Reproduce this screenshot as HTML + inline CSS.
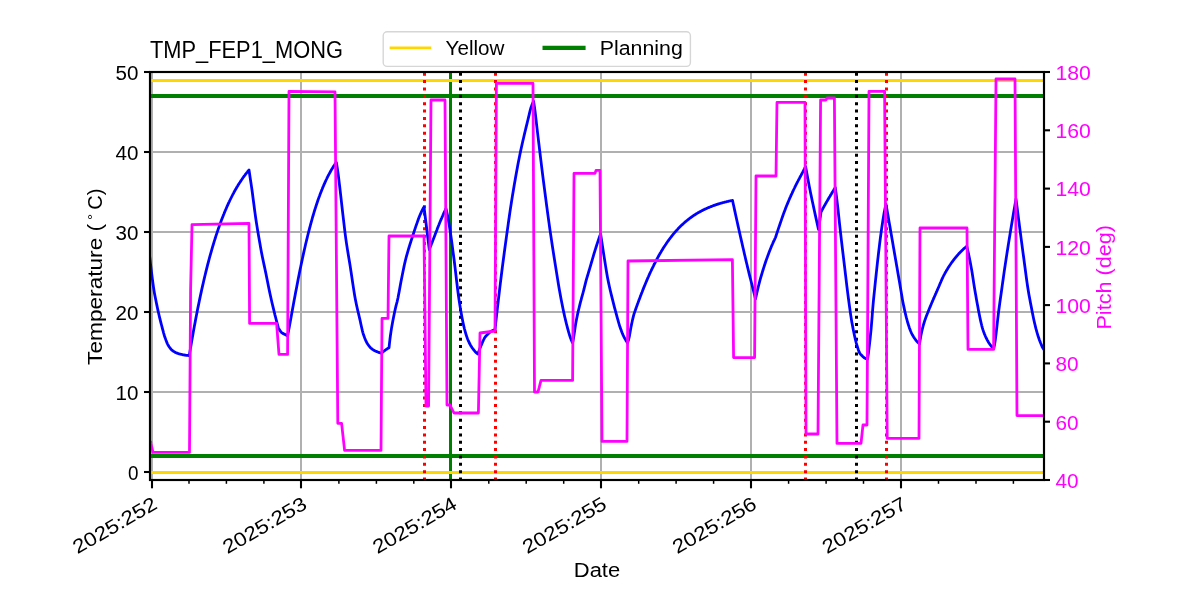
<!DOCTYPE html>
<html lang="en"><head><meta charset="utf-8"><title>TMP_FEP1_MONG</title>
<style>
html,body{margin:0;padding:0;background:#fff;}
body{width:1200px;height:600px;overflow:hidden;font-family:"Liberation Sans", sans-serif;}
svg{display:block;will-change:transform;}
text{font-family:"Liberation Sans", sans-serif;}
.tk{font-size:19.6px;fill:#000;}
.tm{font-size:19.6px;fill:#ff00ff;}
</style></head><body>
<svg width="1200" height="600" viewBox="0 0 1200 600">
<rect x="0" y="0" width="1200" height="600" fill="#ffffff"/>
<defs><clipPath id="ax"><rect x="150" y="72" width="894" height="408"/></clipPath></defs>
<g stroke="#b0b0b0" stroke-width="2" fill="none">
<line x1="152.0" y1="72" x2="152.0" y2="480"/>
<line x1="301.0" y1="72" x2="301.0" y2="480"/>
<line x1="451.0" y1="72" x2="451.0" y2="480"/>
<line x1="601.0" y1="72" x2="601.0" y2="480"/>
<line x1="751.0" y1="72" x2="751.0" y2="480"/>
<line x1="901.0" y1="72" x2="901.0" y2="480"/>
<line x1="150" y1="472.0" x2="1044" y2="472.0"/>
<line x1="150" y1="392.0" x2="1044" y2="392.0"/>
<line x1="150" y1="312.0" x2="1044" y2="312.0"/>
<line x1="150" y1="232.0" x2="1044" y2="232.0"/>
<line x1="150" y1="152.0" x2="1044" y2="152.0"/>
<line x1="150" y1="72.0" x2="1044" y2="72.0"/>
</g>
<g clip-path="url(#ax)" fill="none">
<line x1="450.5" y1="480" x2="450.5" y2="72" stroke="#008000" stroke-width="3"/>
<line x1="150" y1="80.5" x2="1044" y2="80.5" stroke="#ffd700" stroke-width="3"/>
<line x1="150" y1="472.5" x2="1044" y2="472.5" stroke="#ffd700" stroke-width="3"/>
<line x1="150" y1="96.0" x2="1044" y2="96.0" stroke="#008000" stroke-width="4"/>
<line x1="150" y1="456.0" x2="1044" y2="456.0" stroke="#008000" stroke-width="4"/>
<line x1="424.5" y1="480" x2="424.5" y2="72" stroke="#ff0000" stroke-width="3" stroke-dasharray="3 4.36" stroke-dashoffset="0.55"/>
<line x1="495.5" y1="480" x2="495.5" y2="72" stroke="#ff0000" stroke-width="3" stroke-dasharray="3 4.36" stroke-dashoffset="0.55"/>
<line x1="805.5" y1="480" x2="805.5" y2="72" stroke="#ff0000" stroke-width="3" stroke-dasharray="3 4.36" stroke-dashoffset="0.55"/>
<line x1="886.5" y1="480" x2="886.5" y2="72" stroke="#ff0000" stroke-width="3" stroke-dasharray="3 4.36" stroke-dashoffset="0.55"/>
<line x1="460.5" y1="480" x2="460.5" y2="72" stroke="#000000" stroke-width="3" stroke-dasharray="3 4.36" stroke-dashoffset="0.55"/>
<line x1="856.5" y1="480" x2="856.5" y2="72" stroke="#000000" stroke-width="3" stroke-dasharray="3 4.36" stroke-dashoffset="0.55"/>
<path d="M148.0,242.0 L148.5,246.4 L149.0,250.8 L149.5,255.1 L150.0,259.5 L150.5,263.8 L151.0,268.0 L151.5,272.1 L152.0,276.1 L152.5,280.0 L153.0,283.7 L153.5,287.3 L154.0,290.5 L154.5,293.4 L155.0,296.0 L155.5,298.5 L156.0,301.0 L156.5,303.5 L157.0,305.9 L157.5,308.2 L158.0,310.6 L158.5,312.8 L159.0,315.0 L159.5,317.1 L160.0,319.2 L160.5,321.1 L161.0,323.1 L161.5,325.0 L162.0,326.9 L162.5,328.8 L163.0,330.7 L163.5,332.6 L164.0,334.3 L164.5,336.0 L165.0,337.5 L165.5,338.9 L166.0,340.3 L166.5,341.6 L167.0,342.9 L167.5,344.0 L168.0,345.0 L168.5,345.8 L169.0,346.6 L169.5,347.3 L170.0,348.0 L170.5,348.6 L171.0,349.2 L171.5,349.7 L172.0,350.2 L172.5,350.6 L173.0,351.0 L173.5,351.3 L174.0,351.6 L174.5,351.9 L175.0,352.2 L175.5,352.5 L176.0,352.7 L176.5,352.9 L177.0,353.1 L177.5,353.3 L178.0,353.5 L178.5,353.7 L179.0,353.8 L179.5,354.0 L180.0,354.1 L180.5,354.2 L181.0,354.3 L181.5,354.4 L182.0,354.5 L182.5,354.7 L183.0,354.8 L183.5,354.9 L184.0,355.0 L184.5,355.0 L185.0,355.1 L185.5,355.2 L186.0,355.3 L186.5,355.3 L187.0,355.4 L187.5,355.4 L188.0,355.5 L188.5,355.5 L189.0,355.5 L189.3,355.5 L189.8,352.5 L190.3,349.4 L190.8,346.5 L191.3,343.5 L191.8,340.6 L192.3,337.8 L192.8,334.9 L193.3,332.1 L193.8,329.3 L194.3,326.6 L194.8,323.9 L195.3,321.2 L195.8,318.6 L196.3,316.0 L196.8,313.4 L197.3,310.8 L197.8,308.3 L198.3,305.9 L198.8,303.4 L199.3,301.0 L199.8,298.6 L200.3,296.2 L200.8,293.9 L201.3,291.6 L201.8,289.3 L202.3,287.1 L202.8,284.9 L203.3,282.7 L203.8,280.5 L204.3,278.4 L204.8,276.3 L205.3,274.2 L205.8,272.1 L206.3,270.1 L206.8,268.1 L207.3,266.2 L207.8,264.2 L208.3,262.3 L208.8,260.4 L209.3,258.5 L209.8,256.7 L210.3,254.9 L210.8,253.1 L211.3,251.3 L211.8,249.6 L212.3,247.8 L212.8,246.1 L213.3,244.5 L213.8,242.8 L214.3,241.2 L214.8,239.6 L215.3,238.0 L215.8,236.4 L216.3,234.9 L216.8,233.4 L217.3,231.9 L217.8,230.4 L218.3,228.9 L218.8,227.5 L219.3,226.1 L219.8,224.7 L220.3,223.3 L220.8,221.9 L221.3,220.6 L221.8,219.3 L222.3,218.0 L222.8,216.7 L223.3,215.4 L223.8,214.2 L224.3,212.9 L224.8,211.7 L225.3,210.5 L225.8,209.4 L226.3,208.2 L226.8,207.0 L227.3,205.9 L227.8,204.8 L228.3,203.7 L228.8,202.6 L229.3,201.6 L229.8,200.5 L230.3,199.5 L230.8,198.5 L231.3,197.5 L231.8,196.5 L232.3,195.5 L232.8,194.5 L233.3,193.6 L233.8,192.7 L234.3,191.7 L234.8,190.8 L235.3,189.9 L235.8,189.1 L236.3,188.2 L236.8,187.3 L237.3,186.5 L237.8,185.7 L238.3,184.8 L238.8,184.0 L239.3,183.2 L239.8,182.5 L240.3,181.7 L240.8,180.9 L241.3,180.2 L241.8,179.5 L242.3,178.7 L242.8,178.0 L243.3,177.3 L243.8,176.6 L244.3,175.9 L244.8,175.3 L245.3,174.6 L245.8,173.9 L246.3,173.3 L246.8,172.7 L247.3,172.1 L247.8,171.4 L248.3,170.8 L248.8,170.2 L249.0,170.0 L249.5,173.3 L250.0,176.7 L250.5,180.0 L251.0,183.3 L251.5,186.6 L252.0,190.0 L252.5,193.8 L253.0,197.7 L253.5,201.5 L254.0,205.3 L254.5,209.2 L255.0,212.9 L255.5,216.5 L256.0,220.0 L256.5,223.3 L257.0,226.4 L257.5,229.5 L258.0,232.4 L258.5,235.4 L259.0,238.3 L259.5,241.2 L260.0,244.0 L260.5,246.9 L261.0,249.7 L261.5,252.4 L262.0,255.0 L262.5,257.5 L263.0,259.9 L263.5,262.3 L264.0,264.6 L264.5,266.9 L265.0,269.3 L265.5,271.6 L266.0,274.0 L266.5,276.5 L267.0,279.0 L267.5,281.5 L268.0,284.1 L268.5,286.6 L269.0,289.0 L269.5,291.4 L270.0,293.7 L270.5,296.0 L271.0,298.3 L271.5,300.5 L272.0,302.7 L272.5,304.8 L273.0,306.9 L273.5,308.9 L274.0,311.0 L274.5,313.0 L275.0,315.1 L275.5,317.0 L276.0,319.0 L276.5,320.9 L277.0,322.8 L277.5,324.7 L278.0,326.6 L278.3,327.7 L278.8,328.6 L279.3,329.5 L279.8,330.4 L280.3,331.1 L280.8,331.8 L281.3,332.3 L281.8,332.7 L282.3,333.0 L282.8,333.4 L283.3,333.6 L283.8,333.9 L284.3,334.1 L284.8,334.4 L285.3,334.6 L285.8,334.9 L286.3,335.2 L286.8,335.5 L287.3,335.8 L287.6,336.0 L288.1,333.3 L288.6,330.6 L289.1,327.9 L289.6,325.2 L290.1,322.4 L290.6,319.7 L291.1,316.9 L291.6,314.2 L292.1,311.5 L292.6,308.7 L293.1,306.0 L293.6,303.3 L294.1,300.6 L294.6,297.9 L295.1,295.3 L295.6,292.6 L296.1,290.0 L296.6,287.4 L297.1,284.8 L297.6,282.2 L298.1,279.6 L298.6,277.1 L299.1,274.6 L299.6,272.1 L300.1,269.6 L300.6,267.2 L301.1,264.8 L301.6,262.4 L302.1,260.1 L302.6,257.7 L303.1,255.4 L303.6,253.1 L304.1,250.9 L304.6,248.7 L305.1,246.5 L305.6,244.3 L306.1,242.2 L306.6,240.1 L307.1,238.1 L307.6,236.0 L308.1,234.0 L308.6,232.0 L309.1,230.1 L309.6,228.2 L310.1,226.3 L310.6,224.4 L311.1,222.6 L311.6,220.8 L312.1,219.0 L312.6,217.2 L313.1,215.5 L313.6,213.8 L314.1,212.2 L314.6,210.5 L315.1,208.9 L315.6,207.3 L316.1,205.8 L316.6,204.3 L317.1,202.8 L317.6,201.3 L318.1,199.8 L318.6,198.4 L319.1,197.0 L319.6,195.7 L320.1,194.3 L320.6,193.0 L321.1,191.7 L321.6,190.4 L322.1,189.2 L322.6,187.9 L323.1,186.7 L323.6,185.6 L324.1,184.4 L324.6,183.3 L325.1,182.2 L325.6,181.1 L326.1,180.0 L326.6,179.0 L327.1,177.9 L327.6,176.9 L328.1,175.9 L328.6,175.0 L329.1,174.0 L329.6,173.1 L330.1,172.2 L330.6,171.3 L331.1,170.4 L331.6,169.5 L332.1,168.7 L332.6,167.9 L333.1,167.1 L333.6,166.3 L334.1,165.5 L334.6,164.8 L335.1,164.0 L335.6,163.3 L336.1,162.6 L336.3,162.3 L336.8,165.1 L337.3,168.3 L337.8,171.6 L338.3,175.2 L338.8,179.2 L339.3,183.3 L339.8,187.5 L340.3,191.9 L340.8,196.2 L341.3,200.6 L341.8,205.1 L342.3,209.5 L342.8,213.9 L343.3,218.1 L343.8,222.4 L344.3,226.7 L344.8,230.8 L345.3,234.8 L345.8,238.6 L346.3,242.1 L346.8,245.4 L347.3,248.6 L347.8,251.7 L348.3,254.7 L348.8,257.7 L349.3,260.7 L349.8,263.7 L350.3,266.9 L350.8,270.2 L351.3,273.5 L351.8,276.9 L352.3,280.2 L352.8,283.6 L353.3,286.9 L353.8,290.1 L354.3,293.2 L354.8,296.2 L355.3,298.9 L355.8,301.5 L356.3,304.0 L356.8,306.3 L357.3,308.5 L357.8,310.7 L358.3,312.8 L358.8,314.9 L359.3,317.0 L359.8,319.1 L360.3,321.3 L360.8,323.7 L361.3,326.0 L361.8,328.3 L362.3,330.4 L362.8,332.3 L363.3,334.0 L363.8,335.5 L364.3,336.9 L364.8,338.3 L365.3,339.5 L365.8,340.7 L366.3,341.7 L366.8,342.7 L367.3,343.5 L367.8,344.3 L368.3,345.0 L368.8,345.7 L369.3,346.3 L369.8,346.9 L370.3,347.5 L370.8,348.0 L371.3,348.4 L371.8,348.8 L372.3,349.2 L372.8,349.6 L373.3,349.9 L373.8,350.2 L374.3,350.5 L374.8,350.7 L375.3,351.0 L375.8,351.2 L376.3,351.4 L376.8,351.6 L377.3,351.8 L377.8,352.0 L378.3,352.2 L378.8,352.4 L379.3,352.6 L379.8,352.7 L380.3,352.9 L380.8,353.0 L381.3,353.2 L381.5,353.2 L382.0,352.7 L382.5,352.3 L383.0,351.9 L383.5,351.5 L384.0,351.1 L384.5,350.7 L385.0,350.3 L385.5,349.9 L386.0,349.6 L386.5,349.3 L387.0,349.0 L387.5,348.6 L388.0,348.3 L388.5,348.1 L389.0,347.8 L389.5,343.2 L390.0,338.9 L390.5,335.0 L391.0,331.6 L391.5,328.4 L392.0,325.5 L392.5,322.7 L393.0,320.0 L393.5,317.4 L394.0,314.9 L394.5,312.5 L395.0,310.2 L395.5,308.0 L396.0,305.9 L396.5,304.0 L397.0,302.1 L397.5,300.0 L398.0,297.7 L398.5,295.1 L399.0,292.5 L399.5,289.8 L400.0,287.0 L400.5,284.2 L401.0,281.6 L401.5,279.0 L402.0,276.5 L402.5,274.0 L403.0,271.5 L403.5,269.0 L404.0,266.6 L404.5,264.3 L405.0,262.1 L405.5,260.0 L406.0,258.0 L406.5,256.1 L407.0,254.3 L407.5,252.6 L408.0,250.9 L408.5,249.2 L409.0,247.5 L409.5,245.9 L410.0,244.2 L410.5,242.7 L411.0,241.1 L411.5,239.6 L412.0,238.0 L412.5,236.5 L413.0,235.0 L413.5,233.5 L414.0,231.9 L414.5,230.4 L415.0,228.9 L415.5,227.4 L416.0,225.9 L416.5,224.5 L417.0,223.1 L417.5,221.6 L418.0,220.2 L418.5,218.8 L419.0,217.5 L419.5,216.2 L420.0,215.0 L420.5,213.9 L421.0,212.8 L421.5,211.7 L422.0,210.7 L422.5,209.7 L423.0,208.7 L423.5,207.8 L424.0,207.0 L429.3,249.5 L429.8,248.2 L430.3,247.0 L430.8,245.7 L431.3,244.4 L431.8,243.1 L432.3,241.9 L432.8,240.6 L433.3,239.3 L433.8,238.0 L434.3,236.7 L434.8,235.4 L435.3,234.1 L435.8,232.8 L436.3,231.5 L436.8,230.2 L437.3,228.8 L437.8,227.5 L438.3,226.2 L438.8,225.0 L439.3,223.7 L439.8,222.5 L440.3,221.3 L440.8,220.1 L441.3,218.9 L441.8,217.8 L442.3,216.6 L442.8,215.5 L443.3,214.3 L443.8,213.2 L444.3,212.1 L444.8,211.0 L445.3,210.0 L445.8,208.9 L446.0,208.5 L446.5,210.6 L447.0,213.0 L447.5,215.4 L448.0,218.0 L448.5,220.8 L449.0,223.7 L449.5,226.8 L450.0,230.0 L450.5,233.3 L451.0,236.7 L451.5,240.3 L452.0,243.9 L452.5,247.6 L453.0,251.4 L453.5,255.2 L454.0,259.0 L454.5,263.0 L455.0,267.1 L455.5,271.4 L456.0,275.7 L456.5,280.0 L457.0,284.2 L457.5,288.4 L458.0,292.3 L458.5,296.0 L459.0,299.5 L459.5,302.8 L460.0,306.0 L460.5,309.1 L461.0,312.0 L461.5,314.8 L462.0,317.5 L462.5,320.1 L463.0,322.6 L463.5,324.9 L464.0,327.0 L464.5,329.0 L465.0,330.8 L465.5,332.6 L466.0,334.3 L466.5,335.9 L467.0,337.4 L467.5,338.8 L468.0,340.0 L468.5,341.1 L469.0,342.2 L469.5,343.3 L470.0,344.2 L470.5,345.2 L471.0,346.0 L471.5,346.8 L472.0,347.6 L472.5,348.3 L473.0,349.0 L473.5,349.6 L474.0,350.2 L474.5,350.8 L475.0,351.4 L475.5,351.9 L476.0,352.4 L476.5,352.9 L477.0,353.3 L477.5,353.7 L478.0,354.0 L478.5,352.5 L479.0,351.0 L479.5,349.6 L480.0,348.2 L480.5,347.0 L481.0,345.8 L481.5,344.6 L482.0,343.4 L482.5,342.2 L483.0,341.1 L483.5,340.0 L484.0,339.0 L484.5,338.1 L485.0,337.3 L485.5,336.6 L486.0,336.0 L486.5,335.5 L487.0,335.0 L487.5,334.5 L488.0,334.0 L488.5,333.5 L489.0,333.1 L489.5,332.6 L490.0,332.2 L490.5,331.8 L491.0,331.5 L491.5,331.1 L492.0,330.9 L492.5,330.6 L493.0,330.4 L493.5,330.2 L494.0,330.1 L494.5,330.0 L495.0,330.0 L495.5,325.2 L496.0,320.6 L496.5,316.0 L497.0,311.6 L497.5,307.3 L498.0,303.0 L498.5,298.8 L499.0,294.5 L499.5,290.3 L500.0,286.2 L500.5,282.1 L501.0,278.0 L501.5,274.0 L502.0,270.0 L502.5,266.1 L503.0,262.3 L503.5,258.5 L504.0,254.7 L504.5,251.0 L505.0,247.3 L505.5,243.6 L506.0,240.0 L506.5,236.4 L507.0,232.8 L507.5,229.1 L508.0,225.6 L508.5,222.0 L509.0,218.5 L509.5,215.0 L510.0,211.6 L510.5,208.3 L511.0,205.0 L511.5,201.8 L512.0,198.6 L512.5,195.5 L513.0,192.5 L513.5,189.5 L514.0,186.5 L514.5,183.6 L515.0,180.7 L515.5,177.8 L516.0,175.0 L516.5,172.2 L517.0,169.5 L517.5,166.8 L518.0,164.1 L518.5,161.5 L519.0,159.0 L519.5,156.5 L520.0,154.0 L520.5,151.6 L521.0,149.3 L521.5,147.0 L522.0,144.7 L522.5,142.5 L523.0,140.3 L523.5,138.2 L524.0,136.0 L524.5,133.9 L525.0,131.8 L525.5,129.7 L526.0,127.6 L526.5,125.6 L527.0,123.6 L527.5,121.5 L528.0,119.5 L528.5,117.4 L529.0,115.2 L529.5,113.1 L530.0,111.0 L530.5,109.1 L531.0,107.5 L531.5,106.1 L532.0,104.7 L532.5,103.5 L533.0,102.4 L533.5,101.5 L533.6,101.3 L534.1,104.6 L534.6,108.0 L535.1,111.8 L535.6,115.8 L536.1,120.2 L536.6,124.6 L537.1,128.8 L537.6,133.1 L538.1,137.3 L538.6,141.5 L539.1,145.7 L539.6,149.8 L540.1,154.0 L540.6,158.1 L541.1,162.2 L541.6,166.3 L542.1,170.3 L542.6,174.3 L543.1,178.3 L543.6,182.2 L544.1,186.1 L544.6,189.9 L545.1,193.8 L545.6,197.6 L546.1,201.4 L546.6,205.2 L547.1,208.9 L547.6,212.7 L548.1,216.4 L548.6,220.0 L549.1,223.6 L549.6,227.2 L550.1,230.7 L550.6,234.1 L551.1,237.5 L551.6,240.9 L552.1,244.2 L552.6,247.5 L553.1,250.8 L553.6,254.0 L554.1,257.2 L554.6,260.3 L555.1,263.5 L555.6,266.6 L556.1,269.8 L556.6,272.9 L557.1,276.0 L557.6,279.1 L558.1,282.2 L558.6,285.2 L559.1,288.2 L559.6,291.0 L560.1,293.8 L560.6,296.5 L561.1,299.2 L561.6,301.8 L562.1,304.3 L562.6,306.8 L563.1,309.2 L563.6,311.6 L564.1,313.9 L564.6,316.2 L565.1,318.3 L565.6,320.4 L566.1,322.5 L566.6,324.5 L567.1,326.4 L567.6,328.3 L568.1,330.2 L568.6,332.0 L569.1,333.7 L569.6,335.3 L570.1,336.8 L570.6,338.3 L571.1,339.6 L571.6,340.8 L572.1,342.0 L572.6,343.0 L573.1,340.5 L573.6,337.7 L574.1,334.4 L574.6,331.0 L575.1,327.5 L575.6,324.3 L576.1,321.5 L576.6,318.9 L577.1,316.5 L577.6,314.1 L578.1,311.9 L578.6,309.8 L579.1,307.7 L579.6,305.6 L580.1,303.6 L580.6,301.6 L581.1,299.8 L581.6,297.9 L582.1,296.1 L582.6,294.3 L583.1,292.5 L583.6,290.6 L584.1,288.7 L584.6,286.6 L585.1,284.6 L585.6,282.7 L586.1,280.7 L586.6,278.9 L587.1,277.2 L587.6,275.5 L588.1,273.8 L588.6,272.1 L589.1,270.5 L589.6,268.8 L590.1,267.2 L590.6,265.5 L591.1,263.7 L591.6,262.0 L592.1,260.3 L592.6,258.5 L593.1,256.8 L593.6,255.1 L594.1,253.4 L594.6,251.8 L595.1,250.2 L595.6,248.6 L596.1,247.0 L596.6,245.5 L597.1,243.9 L597.6,242.4 L598.1,240.9 L598.6,239.4 L599.1,238.0 L599.6,236.5 L600.1,235.1 L600.6,233.7 L601.1,237.1 L601.6,240.4 L602.1,243.8 L602.6,247.0 L603.1,250.3 L603.6,253.5 L604.1,256.6 L604.6,259.8 L605.1,263.0 L605.6,266.1 L606.1,269.2 L606.6,272.2 L607.1,275.2 L607.6,277.9 L608.1,280.5 L608.6,282.9 L609.1,285.3 L609.6,287.5 L610.1,289.7 L610.6,291.8 L611.1,293.8 L611.6,295.9 L612.1,297.9 L612.6,299.9 L613.1,301.9 L613.6,303.9 L614.1,305.9 L614.6,307.8 L615.1,309.7 L615.6,311.5 L616.1,313.4 L616.6,315.2 L617.1,317.1 L617.6,318.9 L618.1,320.7 L618.6,322.5 L619.1,324.2 L619.6,325.8 L620.1,327.3 L620.6,328.7 L621.1,330.1 L621.6,331.4 L622.1,332.7 L622.6,333.9 L623.1,335.1 L623.6,336.2 L624.1,337.2 L624.6,338.1 L625.1,339.0 L625.6,339.8 L626.1,340.7 L626.6,341.5 L627.1,342.3 L627.5,343.0 L628.0,341.6 L628.5,339.9 L629.0,338.0 L629.5,335.6 L630.0,332.7 L630.5,329.7 L631.0,327.0 L631.5,324.6 L632.0,322.3 L632.5,320.0 L633.0,317.9 L633.5,315.9 L634.0,314.0 L634.5,312.6 L635.0,311.1 L635.5,309.7 L636.0,308.3 L636.5,306.9 L637.0,305.5 L637.5,304.1 L638.0,302.8 L638.5,301.4 L639.0,300.1 L639.5,298.7 L640.0,297.4 L640.5,296.1 L641.0,294.7 L641.5,293.4 L642.0,292.2 L642.5,290.9 L643.0,289.6 L643.5,288.4 L644.0,287.1 L644.5,285.9 L645.0,284.7 L645.5,283.5 L646.0,282.3 L646.5,281.1 L647.0,279.9 L647.5,278.7 L648.0,277.6 L648.5,276.5 L649.0,275.3 L649.5,274.2 L650.0,273.1 L650.5,272.0 L651.0,271.0 L651.5,269.9 L652.0,268.8 L652.5,267.8 L653.0,266.8 L653.5,265.8 L654.0,264.7 L654.5,263.8 L655.0,262.8 L655.5,261.8 L656.0,260.8 L656.5,259.9 L657.0,259.0 L657.5,258.0 L658.0,257.1 L658.5,256.2 L659.0,255.3 L659.5,254.4 L660.0,253.6 L660.5,252.7 L661.0,251.9 L661.5,251.0 L662.0,250.2 L662.5,249.4 L663.0,248.6 L663.5,247.8 L664.0,247.0 L664.5,246.2 L665.0,245.5 L665.5,244.7 L666.0,244.0 L666.5,243.2 L667.0,242.5 L667.5,241.8 L668.0,241.1 L668.5,240.4 L669.0,239.7 L669.5,239.0 L670.0,238.4 L670.5,237.7 L671.0,237.1 L671.5,236.4 L672.0,235.8 L672.5,235.2 L673.0,234.5 L673.5,233.9 L674.0,233.3 L674.5,232.7 L675.0,232.2 L675.5,231.6 L676.0,231.0 L676.5,230.5 L677.0,229.9 L677.5,229.4 L678.0,228.8 L678.5,228.3 L679.0,227.8 L679.5,227.3 L680.0,226.8 L680.5,226.3 L681.0,225.8 L681.5,225.3 L682.0,224.8 L682.5,224.4 L683.0,223.9 L683.5,223.5 L684.0,223.0 L684.5,222.6 L685.0,222.1 L685.5,221.7 L686.0,221.3 L686.5,220.9 L687.0,220.5 L687.5,220.1 L688.0,219.7 L688.5,219.3 L689.0,218.9 L689.5,218.5 L690.0,218.1 L690.5,217.8 L691.0,217.4 L691.5,217.0 L692.0,216.7 L692.5,216.3 L693.0,216.0 L693.5,215.6 L694.0,215.3 L694.5,215.0 L695.0,214.7 L695.5,214.3 L696.0,214.0 L696.5,213.7 L697.0,213.4 L697.5,213.1 L698.0,212.8 L698.5,212.5 L699.0,212.3 L699.5,212.0 L700.0,211.7 L700.5,211.4 L701.0,211.2 L701.5,210.9 L702.0,210.6 L702.5,210.4 L703.0,210.1 L703.5,209.9 L704.0,209.6 L704.5,209.4 L705.0,209.1 L705.5,208.9 L706.0,208.7 L706.5,208.5 L707.0,208.2 L707.5,208.0 L708.0,207.8 L708.5,207.6 L709.0,207.4 L709.5,207.2 L710.0,207.0 L710.5,206.8 L711.0,206.6 L711.5,206.4 L712.0,206.2 L712.5,206.0 L713.0,205.8 L713.5,205.6 L714.0,205.4 L714.5,205.3 L715.0,205.1 L715.5,204.9 L716.0,204.7 L716.5,204.6 L717.0,204.4 L717.5,204.2 L718.0,204.1 L718.5,203.9 L719.0,203.8 L719.5,203.6 L720.0,203.5 L720.5,203.3 L721.0,203.2 L721.5,203.0 L722.0,202.9 L722.5,202.8 L723.0,202.6 L723.5,202.5 L724.0,202.4 L724.5,202.2 L725.0,202.1 L725.5,202.0 L726.0,201.9 L726.5,201.7 L727.0,201.6 L727.5,201.5 L728.0,201.4 L728.5,201.3 L729.0,201.1 L729.5,201.0 L730.0,200.9 L730.5,200.8 L731.0,200.7 L731.5,200.6 L732.0,200.5 L732.5,200.4 L733.0,202.7 L733.5,205.0 L734.0,207.3 L734.5,209.6 L735.0,211.9 L735.5,214.2 L736.0,216.5 L736.5,218.8 L737.0,221.0 L737.5,223.3 L738.0,225.6 L738.5,227.8 L739.0,230.0 L739.5,232.3 L740.0,234.5 L740.5,236.7 L741.0,238.9 L741.5,241.1 L742.0,243.3 L742.5,245.5 L743.0,247.7 L743.5,249.8 L744.0,252.0 L744.5,254.2 L745.0,256.3 L745.5,258.5 L746.0,260.6 L746.5,262.7 L747.0,264.8 L747.5,266.9 L748.0,269.0 L748.5,271.0 L749.0,273.1 L749.5,275.1 L750.0,277.1 L750.5,279.0 L751.0,281.0 L751.5,283.0 L752.0,285.0 L752.5,287.0 L753.0,289.0 L753.5,291.0 L754.0,293.0 L754.5,295.0 L755.0,297.0 L755.5,299.0 L756.0,296.7 L756.5,294.4 L757.0,292.2 L757.5,290.1 L758.0,288.0 L758.5,286.0 L759.0,284.0 L759.5,282.1 L760.0,280.2 L760.5,278.4 L761.0,276.7 L761.5,275.0 L762.0,273.3 L762.5,271.6 L763.0,270.0 L763.5,268.4 L764.0,266.8 L764.5,265.3 L765.0,263.8 L765.5,262.3 L766.0,260.8 L766.5,259.4 L767.0,258.0 L767.5,256.6 L768.0,255.2 L768.5,253.9 L769.0,252.6 L769.5,251.3 L770.0,250.0 L770.5,248.7 L771.0,247.5 L771.5,246.3 L772.0,245.1 L772.5,244.0 L773.0,242.8 L773.5,241.7 L774.0,240.6 L774.5,239.6 L775.0,238.5 L775.5,237.5 L776.0,236.0 L776.5,234.4 L777.0,232.9 L777.5,231.4 L778.0,229.9 L778.5,228.4 L779.0,226.9 L779.5,225.5 L780.0,224.0 L780.5,222.5 L781.0,221.1 L781.5,219.6 L782.0,218.1 L782.5,216.7 L783.0,215.3 L783.5,213.9 L784.0,212.5 L784.5,211.2 L785.0,209.9 L785.5,208.6 L786.0,207.3 L786.5,206.0 L787.0,204.8 L787.5,203.6 L788.0,202.4 L788.5,201.2 L789.0,200.0 L789.5,198.8 L790.0,197.7 L790.5,196.6 L791.0,195.4 L791.5,194.3 L792.0,193.3 L792.5,192.2 L793.0,191.1 L793.5,190.0 L794.0,189.0 L794.5,188.0 L795.0,186.9 L795.5,185.9 L796.0,184.9 L796.5,183.9 L797.0,182.9 L797.5,182.0 L798.0,181.0 L798.5,180.0 L799.0,179.1 L799.5,178.2 L800.0,177.2 L800.5,176.3 L801.0,175.4 L801.5,174.4 L802.0,173.5 L802.5,172.5 L803.0,171.6 L803.5,170.6 L804.0,169.6 L804.5,168.7 L805.0,167.7 L805.5,166.7 L805.6,166.5 L806.1,169.3 L806.6,172.1 L807.1,174.8 L807.6,177.5 L808.1,180.2 L808.6,182.8 L809.1,185.4 L809.6,188.0 L810.1,190.5 L810.6,193.0 L811.1,195.4 L811.6,197.8 L812.1,200.2 L812.6,202.5 L813.1,204.8 L813.6,207.1 L814.1,209.5 L814.6,211.8 L815.1,214.1 L815.6,216.4 L816.1,218.7 L816.6,221.0 L817.1,223.2 L817.6,225.5 L818.1,227.7 L818.5,229.5 L821.0,212.0 L821.5,211.1 L822.0,210.2 L822.5,209.2 L823.0,208.3 L823.5,207.4 L824.0,206.5 L824.5,205.6 L825.0,204.8 L825.5,203.9 L826.0,203.0 L826.5,202.1 L827.0,201.3 L827.5,200.4 L828.0,199.6 L828.5,198.7 L829.0,197.8 L829.5,197.0 L830.0,196.2 L830.5,195.3 L831.0,194.5 L831.5,193.7 L832.0,192.8 L832.5,192.0 L833.0,191.2 L833.5,190.4 L834.0,189.6 L834.5,188.8 L835.0,188.0 L835.3,187.5 L835.8,191.3 L836.3,195.1 L836.8,199.2 L837.3,203.3 L837.8,207.6 L838.3,212.2 L838.8,216.9 L839.3,221.6 L839.8,226.2 L840.3,230.6 L840.8,235.0 L841.3,239.3 L841.8,243.6 L842.3,247.8 L842.8,252.0 L843.3,256.2 L843.8,260.3 L844.3,264.5 L844.8,268.7 L845.3,273.0 L845.8,277.2 L846.3,281.4 L846.8,285.6 L847.3,289.7 L847.8,293.6 L848.3,297.5 L848.8,301.2 L849.3,305.0 L849.8,308.6 L850.3,312.2 L850.8,315.6 L851.3,318.9 L851.8,321.9 L852.3,324.6 L852.8,327.3 L853.3,329.9 L853.8,332.3 L854.3,334.7 L854.8,337.0 L855.3,339.1 L855.8,341.2 L856.3,343.1 L856.8,344.8 L857.3,346.5 L857.8,348.1 L858.3,349.7 L858.8,351.1 L859.3,352.3 L859.8,353.2 L860.3,353.9 L860.8,354.5 L861.3,355.0 L861.8,355.6 L862.3,356.1 L862.8,356.6 L863.3,357.0 L863.8,357.4 L864.3,357.8 L864.8,358.1 L865.3,358.4 L865.8,358.6 L866.3,358.8 L866.8,358.9 L867.3,359.0 L867.6,359.0 L868.1,355.6 L868.6,351.8 L869.1,347.7 L869.6,343.4 L870.1,338.8 L870.6,334.0 L871.1,329.0 L871.6,323.2 L872.1,316.9 L872.6,310.4 L873.1,304.3 L873.6,299.0 L874.1,294.1 L874.6,289.3 L875.1,284.4 L875.6,279.7 L876.1,275.0 L876.6,270.3 L877.1,265.7 L877.6,261.2 L878.1,256.8 L878.6,252.5 L879.1,248.3 L879.6,244.2 L880.1,240.2 L880.6,236.3 L881.1,232.6 L881.6,229.0 L882.1,225.5 L882.6,222.2 L883.1,219.0 L883.6,216.0 L884.1,213.1 L884.6,210.5 L885.1,208.0 L885.6,205.7 L886.0,204.0 L886.5,206.9 L887.0,209.8 L887.5,212.7 L888.0,215.6 L888.5,218.5 L889.0,221.4 L889.5,224.2 L890.0,227.1 L890.5,230.0 L891.0,232.9 L891.5,235.8 L892.0,238.7 L892.5,241.6 L893.0,244.5 L893.5,247.4 L894.0,250.3 L894.5,253.2 L895.0,256.1 L895.5,258.9 L896.0,261.8 L896.5,264.7 L897.0,267.6 L897.5,270.5 L898.0,273.4 L898.5,276.3 L899.0,279.2 L899.5,282.1 L900.0,285.0 L900.5,288.0 L901.0,291.0 L901.5,294.0 L902.0,297.0 L902.5,299.9 L903.0,302.5 L903.5,305.0 L904.0,307.4 L904.5,309.7 L905.0,312.0 L905.5,314.1 L906.0,316.2 L906.5,318.2 L907.0,320.0 L907.5,321.8 L908.0,323.5 L908.5,325.1 L909.0,326.7 L909.5,328.2 L910.0,329.5 L910.5,330.8 L911.0,332.0 L911.5,333.1 L912.0,334.1 L912.5,335.0 L913.0,335.9 L913.5,336.8 L914.0,337.5 L914.5,338.3 L915.0,339.0 L915.5,339.7 L916.0,340.3 L916.5,340.9 L917.0,341.4 L917.5,342.0 L918.0,342.5 L918.5,343.0 L919.0,343.5 L919.5,344.0 L920.0,340.7 L920.5,337.7 L921.0,335.0 L921.5,332.6 L922.0,330.4 L922.5,328.4 L923.0,326.5 L923.5,324.7 L924.0,323.0 L924.5,321.4 L925.0,319.9 L925.5,318.5 L926.0,317.1 L926.5,315.8 L927.0,314.5 L927.5,313.3 L928.0,312.0 L928.5,310.7 L929.0,309.5 L929.5,308.3 L930.0,307.1 L930.5,305.9 L931.0,304.7 L931.5,303.5 L932.0,302.3 L932.5,301.2 L933.0,300.0 L933.5,298.8 L934.0,297.7 L934.5,296.5 L935.0,295.4 L935.5,294.2 L936.0,293.1 L936.5,291.9 L937.0,290.8 L937.5,289.6 L938.0,288.5 L938.5,287.4 L939.0,286.2 L939.5,285.0 L940.0,283.8 L940.5,282.6 L941.0,281.5 L941.5,280.3 L942.0,279.2 L942.5,278.1 L943.0,277.0 L943.5,276.0 L944.0,275.0 L944.5,274.1 L945.0,273.1 L945.5,272.2 L946.0,271.4 L946.5,270.5 L947.0,269.7 L947.5,268.9 L948.0,268.1 L948.5,267.3 L949.0,266.5 L949.5,265.7 L950.0,265.0 L950.5,264.3 L951.0,263.5 L951.5,262.8 L952.0,262.1 L952.5,261.5 L953.0,260.8 L953.5,260.1 L954.0,259.5 L954.5,258.8 L955.0,258.2 L955.5,257.6 L956.0,257.0 L956.5,256.4 L957.0,255.8 L957.5,255.2 L958.0,254.7 L958.5,254.1 L959.0,253.6 L959.5,253.0 L960.0,252.5 L960.5,252.0 L961.0,251.5 L961.5,251.0 L962.0,250.5 L962.5,250.0 L963.0,249.6 L963.5,249.1 L964.0,248.6 L964.5,248.2 L965.0,247.8 L965.5,247.4 L966.0,246.9 L966.5,246.5 L966.8,246.3 L967.3,248.4 L967.8,250.5 L968.3,252.7 L968.8,255.0 L969.3,257.5 L969.8,260.0 L970.3,262.6 L970.8,265.2 L971.3,268.0 L971.8,270.8 L972.3,273.8 L972.8,277.0 L973.3,280.3 L973.8,283.6 L974.3,286.8 L974.8,289.8 L975.3,292.7 L975.8,295.6 L976.3,298.4 L976.8,301.2 L977.3,303.9 L977.8,306.6 L978.3,309.4 L978.8,312.0 L979.3,314.6 L979.8,317.1 L980.3,319.4 L980.8,321.6 L981.3,323.7 L981.8,325.8 L982.3,327.7 L982.8,329.4 L983.3,330.9 L983.8,332.3 L984.3,333.6 L984.8,334.8 L985.3,336.0 L985.8,337.1 L986.3,338.1 L986.8,339.1 L987.3,340.1 L987.8,341.0 L988.3,341.9 L988.8,342.7 L989.3,343.5 L989.8,344.2 L990.3,344.9 L990.8,345.5 L991.3,346.2 L991.8,346.7 L992.3,347.3 L992.8,347.8 L993.3,348.3 L993.7,348.6 L994.2,346.5 L994.7,343.8 L995.2,340.5 L995.7,336.6 L996.2,332.5 L996.7,328.3 L997.2,323.9 L997.7,319.3 L998.2,315.0 L998.7,311.0 L999.2,307.3 L999.7,303.6 L1000.2,300.0 L1000.7,296.5 L1001.2,293.0 L1001.7,289.5 L1002.2,285.9 L1002.7,282.3 L1003.2,278.7 L1003.7,275.1 L1004.2,271.6 L1004.7,268.2 L1005.2,264.9 L1005.7,261.6 L1006.2,258.3 L1006.7,255.1 L1007.2,251.8 L1007.7,248.7 L1008.2,245.5 L1008.7,242.4 L1009.2,239.3 L1009.7,236.2 L1010.2,233.1 L1010.7,230.0 L1011.2,227.0 L1011.7,224.0 L1012.2,221.0 L1012.7,218.0 L1013.2,215.1 L1013.7,212.1 L1014.2,209.2 L1014.7,206.4 L1015.2,203.5 L1015.7,200.7 L1016.0,199.0 L1016.5,202.9 L1017.0,206.8 L1017.5,210.7 L1018.0,214.6 L1018.5,218.5 L1019.0,222.3 L1019.5,226.2 L1020.0,230.0 L1020.5,233.8 L1021.0,237.6 L1021.5,241.4 L1022.0,245.1 L1022.5,248.9 L1023.0,252.6 L1023.5,256.3 L1024.0,260.0 L1024.5,263.7 L1025.0,267.5 L1025.5,271.3 L1026.0,275.1 L1026.5,278.8 L1027.0,282.4 L1027.5,285.8 L1028.0,289.0 L1028.5,292.0 L1029.0,294.9 L1029.5,297.6 L1030.0,300.3 L1030.5,302.9 L1031.0,305.5 L1031.5,308.1 L1032.0,310.7 L1032.5,313.3 L1033.0,315.8 L1033.5,318.2 L1034.0,320.5 L1034.5,322.7 L1035.0,324.8 L1035.5,326.9 L1036.0,328.9 L1036.5,330.7 L1037.0,332.5 L1037.5,334.2 L1038.0,335.8 L1038.5,337.3 L1039.0,338.8 L1039.5,340.2 L1040.0,341.5 L1040.5,342.8 L1041.0,344.0 L1041.5,345.2 L1042.0,346.3 L1042.5,347.4 L1043.0,348.3 L1043.5,349.0 L1044.0,349.6 L1044.5,350.0" stroke="#0000ff" stroke-width="2.78" stroke-linejoin="round" stroke-linecap="butt"/>
</g>
<g stroke="#000" stroke-width="2.08" fill="none">
<line x1="144" y1="472.0" x2="150" y2="472.0"/>
<line x1="144" y1="392.0" x2="150" y2="392.0"/>
<line x1="144" y1="312.0" x2="150" y2="312.0"/>
<line x1="144" y1="232.0" x2="150" y2="232.0"/>
<line x1="144" y1="152.0" x2="150" y2="152.0"/>
<line x1="144" y1="72.0" x2="150" y2="72.0"/>
<line x1="152.0" y1="480" x2="152.0" y2="488.3"/>
<line x1="301.0" y1="480" x2="301.0" y2="488.3"/>
<line x1="451.0" y1="480" x2="451.0" y2="488.3"/>
<line x1="601.0" y1="480" x2="601.0" y2="488.3"/>
<line x1="751.0" y1="480" x2="751.0" y2="488.3"/>
<line x1="901.0" y1="480" x2="901.0" y2="488.3"/>
</g>
<g stroke="#000" stroke-width="1.5" fill="none">
<line x1="189.0" y1="480" x2="189.0" y2="483.8"/>
<line x1="226.4" y1="480" x2="226.4" y2="483.8"/>
<line x1="263.9" y1="480" x2="263.9" y2="483.8"/>
<line x1="338.9" y1="480" x2="338.9" y2="483.8"/>
<line x1="376.4" y1="480" x2="376.4" y2="483.8"/>
<line x1="413.8" y1="480" x2="413.8" y2="483.8"/>
<line x1="488.8" y1="480" x2="488.8" y2="483.8"/>
<line x1="526.2" y1="480" x2="526.2" y2="483.8"/>
<line x1="563.7" y1="480" x2="563.7" y2="483.8"/>
<line x1="638.7" y1="480" x2="638.7" y2="483.8"/>
<line x1="676.1" y1="480" x2="676.1" y2="483.8"/>
<line x1="713.6" y1="480" x2="713.6" y2="483.8"/>
<line x1="788.6" y1="480" x2="788.6" y2="483.8"/>
<line x1="826.1" y1="480" x2="826.1" y2="483.8"/>
<line x1="863.5" y1="480" x2="863.5" y2="483.8"/>
<line x1="938.5" y1="480" x2="938.5" y2="483.8"/>
<line x1="976.0" y1="480" x2="976.0" y2="483.8"/>
<line x1="1013.4" y1="480" x2="1013.4" y2="483.8"/>
</g>
<rect x="150" y="72" width="894" height="408" fill="none" stroke="#000" stroke-width="2.08"/>
<g clip-path="url(#ax)" fill="none">
<path d="M150.5,441.0 L151.0,444.0 L153.0,452.4 L189.5,452.4 L190.6,290.0 L192.0,224.6 L249.0,223.3 L249.6,323.4 L276.6,323.4 L279.0,354.4 L287.6,354.4 L289.0,91.4 L335.0,91.8 L337.8,423.3 L341.6,423.3 L344.6,450.4 L381.0,450.4 L382.0,318.4 L388.0,318.4 L389.0,236.0 L424.0,236.0 L426.0,406.0 L428.6,406.0 L431.0,100.0 L445.0,100.0 L447.0,405.0 L450.0,405.0 L454.0,413.0 L478.4,413.0 L480.0,333.0 L495.0,331.0 L496.4,83.4 L533.0,83.4 L534.5,392.0 L538.0,392.0 L541.0,380.4 L572.6,380.4 L574.0,173.4 L595.0,173.4 L596.0,170.4 L600.0,170.4 L602.0,441.4 L627.0,441.4 L628.0,261.0 L732.4,259.6 L733.6,357.6 L754.6,357.6 L756.0,176.0 L776.0,176.0 L777.0,102.4 L805.0,102.4 L806.0,434.0 L818.0,434.0 L820.6,100.0 L826.0,100.0 L827.0,98.0 L834.4,98.0 L837.0,443.4 L861.0,443.4 L863.0,425.0 L867.0,425.0 L869.0,91.4 L884.6,91.4 L887.2,438.4 L919.0,438.4 L920.0,228.0 L967.0,228.0 L968.0,349.4 L993.6,349.4 L996.0,79.0 L1015.0,79.0 L1017.0,415.6 L1044.0,415.6" stroke="#ff00ff" stroke-width="2.78" stroke-linejoin="round"/>
</g>
<g stroke="#000" stroke-width="2.08" fill="none">
<line x1="1044" y1="480.0" x2="1050" y2="480.0"/>
<line x1="1044" y1="421.7" x2="1050" y2="421.7"/>
<line x1="1044" y1="363.4" x2="1050" y2="363.4"/>
<line x1="1044" y1="305.1" x2="1050" y2="305.1"/>
<line x1="1044" y1="246.9" x2="1050" y2="246.9"/>
<line x1="1044" y1="188.6" x2="1050" y2="188.6"/>
<line x1="1044" y1="130.3" x2="1050" y2="130.3"/>
<line x1="1044" y1="72.0" x2="1050" y2="72.0"/>
</g>
<rect x="150" y="72" width="894" height="408" fill="none" stroke="#000" stroke-width="2.08"/>
<rect x="383.2" y="31.8" width="307.2" height="34.6" rx="3.9" ry="3.9" fill="#ffffff" fill-opacity="0.8" stroke="#d6d6d6" stroke-width="1.39"/>
<line x1="391" y1="47.8" x2="429.9" y2="47.8" stroke="#ffd700" stroke-width="2.78" stroke-linecap="square"/>
<line x1="544.6" y1="47.8" x2="583.5" y2="47.8" stroke="#008000" stroke-width="4.17" stroke-linecap="square"/>
<text class="tk" x="445.6" y="55.0" textLength="58.8" lengthAdjust="spacingAndGlyphs">Yellow</text>
<text class="tk" x="599.8" y="55.0" textLength="83.0" lengthAdjust="spacingAndGlyphs">Planning</text>
<text x="150" y="58" font-size="23.0" fill="#000" textLength="192.9" lengthAdjust="spacingAndGlyphs">TMP_FEP1_MONG</text>
<text class="tk" x="138.4" y="480.0" text-anchor="end" textLength="10.5" lengthAdjust="spacingAndGlyphs">0</text>
<text class="tk" x="138.4" y="400.0" text-anchor="end" textLength="22.9" lengthAdjust="spacingAndGlyphs">10</text>
<text class="tk" x="138.4" y="320.0" text-anchor="end" textLength="22.9" lengthAdjust="spacingAndGlyphs">20</text>
<text class="tk" x="138.4" y="240.0" text-anchor="end" textLength="22.9" lengthAdjust="spacingAndGlyphs">30</text>
<text class="tk" x="138.4" y="160.0" text-anchor="end" textLength="22.9" lengthAdjust="spacingAndGlyphs">40</text>
<text class="tk" x="138.4" y="80.0" text-anchor="end" textLength="22.9" lengthAdjust="spacingAndGlyphs">50</text>
<text class="tm" x="1055.4" y="487.8" textLength="23.1" lengthAdjust="spacingAndGlyphs">40</text>
<text class="tm" x="1055.4" y="429.5" textLength="23.1" lengthAdjust="spacingAndGlyphs">60</text>
<text class="tm" x="1055.4" y="371.2" textLength="23.1" lengthAdjust="spacingAndGlyphs">80</text>
<text class="tm" x="1055.4" y="312.9" textLength="35.4" lengthAdjust="spacingAndGlyphs">100</text>
<text class="tm" x="1055.4" y="254.7" textLength="35.4" lengthAdjust="spacingAndGlyphs">120</text>
<text class="tm" x="1055.4" y="196.4" textLength="35.4" lengthAdjust="spacingAndGlyphs">140</text>
<text class="tm" x="1055.4" y="138.1" textLength="35.4" lengthAdjust="spacingAndGlyphs">160</text>
<text class="tm" x="1055.4" y="79.8" textLength="35.4" lengthAdjust="spacingAndGlyphs">180</text>
<text class="tk" transform="translate(151.5,493.2) rotate(-30)" x="-1.2" y="16.0" text-anchor="end" textLength="93.4" lengthAdjust="spacingAndGlyphs">2025:252</text>
<text class="tk" transform="translate(301.4,493.2) rotate(-30)" x="-1.2" y="16.0" text-anchor="end" textLength="93.4" lengthAdjust="spacingAndGlyphs">2025:253</text>
<text class="tk" transform="translate(451.3,493.2) rotate(-30)" x="-1.2" y="16.0" text-anchor="end" textLength="93.4" lengthAdjust="spacingAndGlyphs">2025:254</text>
<text class="tk" transform="translate(601.2,493.2) rotate(-30)" x="-1.2" y="16.0" text-anchor="end" textLength="93.4" lengthAdjust="spacingAndGlyphs">2025:255</text>
<text class="tk" transform="translate(751.1,493.2) rotate(-30)" x="-1.2" y="16.0" text-anchor="end" textLength="93.4" lengthAdjust="spacingAndGlyphs">2025:256</text>
<text class="tk" transform="translate(901.0,493.2) rotate(-30)" x="-1.2" y="16.0" text-anchor="end" textLength="93.4" lengthAdjust="spacingAndGlyphs">2025:257</text>
<text class="tk" x="597" y="576.6" text-anchor="middle" textLength="46.4" lengthAdjust="spacingAndGlyphs">Date</text>
<text class="tk" transform="translate(102.2,364.9) rotate(-90)"><tspan x="0" y="0" textLength="141" lengthAdjust="spacingAndGlyphs">Temperature (</tspan><tspan x="145" y="-4.0" font-size="15.2">&#176;</tspan><tspan x="155.2" y="0" textLength="21.2" lengthAdjust="spacingAndGlyphs">C)</tspan></text>
<text class="tm" transform="translate(1111.4,329.6) rotate(-90)" x="0" y="0" textLength="104.6" lengthAdjust="spacingAndGlyphs">Pitch (deg)</text>
</svg>
</body></html>
